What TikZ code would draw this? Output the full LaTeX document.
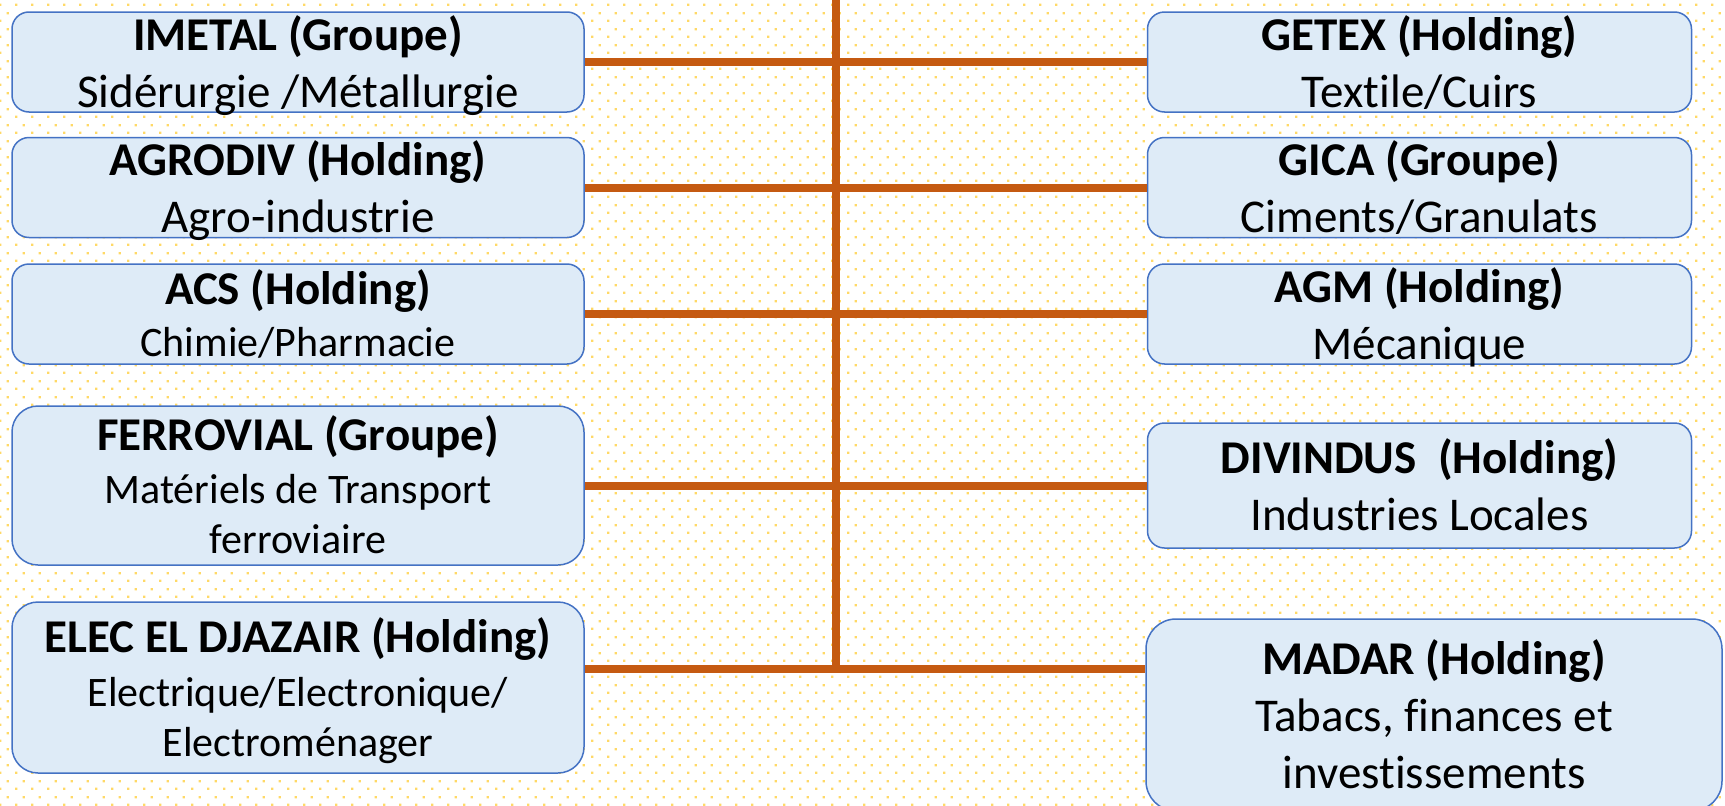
\documentclass[tikz,border=0pt]{standalone}
\usepackage{fontspec}
\setmainfont{Carlito}[Ligatures={NoCommon,NoContextual}]
\usetikzlibrary{positioning}
\usetikzlibrary{patterns}
\definecolor{boxfill}{RGB}{222,235,247}
\definecolor{boxline}{RGB}{68,114,196}
\definecolor{linkcol}{RGB}{197,90,17}
\definecolor{dotcol}{RGB}{255,217,102}
\pgfdeclarepatternformonly{bgdots}{\pgfpointorigin}{\pgfpoint{16pt}{16pt}}{\pgfpoint{16pt}{16pt}}{%
  \pgfpathrectangle{\pgfpoint{0pt}{0pt}}{\pgfpoint{2.5pt}{2.5pt}}%
  \pgfpathrectangle{\pgfpoint{8pt}{8pt}}{\pgfpoint{2.5pt}{2.5pt}}%
  \pgfusepath{fill}}
% struts: top of first line, bottom of last line
\newcommand{\tp}{\rule{0pt}{45pt}}
\newcommand{\bt}{\rule[-12pt]{0pt}{12pt}}
\tikzset{holding/.style={rectangle, rounded corners=17pt, draw=boxline, fill=boxfill,
line width=1.5pt, align=center, inner xsep=0pt, inner ysep=-10pt,
minimum width=572pt, minimum height=100pt,
font=\fontsize{47}{57}\selectfont},
holdr/.style={holding, minimum width=544pt},
tall/.style={holding, rounded corners=26pt, font=\fontsize{42}{50}\selectfont},
link/.style={color=linkcol, line width=8pt}}

\begin{document}
\begin{tikzpicture}[x=1pt,y=-1pt]
  \useasboundingbox (0,0) rectangle (1725,806);
  \fill [white] (0,0) rectangle (1725,806);
  \fill [pattern=bgdots, pattern color=dotcol] (0,0) rectangle (1725,806);

  % left column
  \node (imetal) [holding] at (298,62) {\tp\textbf{IMETAL (Groupe)}\\Sidérurgie /Métallurgie\bt};
  \node (agrodiv) [holding] at (298,187.5) {\tp\textbf{AGRODIV (Holding)}\\Agro-industrie\bt};
  \node (acs) [holding] at (298,314) {\tp\textbf{ACS (Holding)}\\[-5pt]{\fontsize{42}{50}\selectfont Chimie/Pharmacie}\bt};
  \node (ferrovial) [tall, minimum height=159pt] at (298,485.5)
    {\tp{\fontsize{47}{57}\selectfont\bfseries FERROVIAL (Groupe)}\\[3pt]Matériels de Transport\\ferroviaire\bt};
  \node (elec) [tall, minimum height=171pt] at (298,687.5)
    {\tp{\fontsize{47}{57}\selectfont\bfseries ELEC EL DJAZAIR (Holding)}\\[4pt]Electrique/Electronique/\\Electroménager\bt};

  % right column
  \node (getex) [holdr, right=562pt of imetal] {\tp\textbf{GETEX (Holding)}\\Textile/Cuirs\bt};
  \node (gica) [holdr, right=562pt of agrodiv] {\tp\textbf{GICA (Groupe)}\\Ciments/Granulats\bt};
  \node (agm) [holdr, right=562pt of acs] {\tp\textbf{AGM (Holding)}\\Mécanique\bt};
  \node (divindus) [holdr, minimum height=125pt, right=562pt of ferrovial] {\tp\textbf{DIVINDUS\ \ (Holding)}\\Industries Locales\bt};
  \node (madar) [holdr, rounded corners=30pt, minimum width=576pt, minimum height=192pt] at (1434,715)
    {\tp\textbf{MADAR (Holding)}\\Tabacs, finances et\\investissements\bt};

  % connectors
  \coordinate (top) at (836,-10);
  \coordinate (j5) at (836,669);
  \draw [link] (top) -- (j5);
  \draw [link] (imetal) -- (getex);
  \draw [link] (agrodiv) -- (gica);
  \draw [link] (acs) -- (agm);
  \draw [link] (ferrovial) -- (divindus);
  \draw [link] (elec.east |- j5) -- (madar.west |- j5);
\end{tikzpicture}
\end{document}
